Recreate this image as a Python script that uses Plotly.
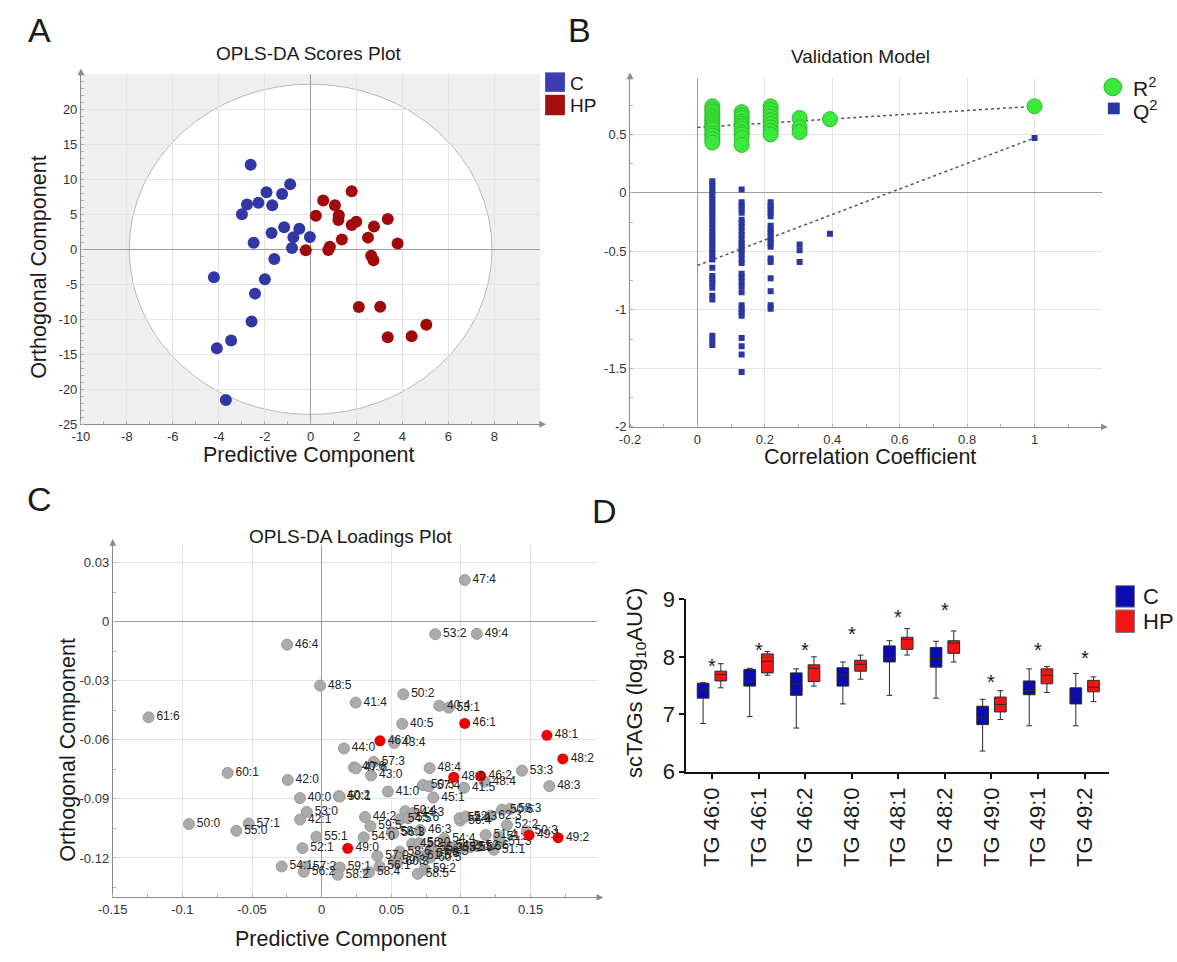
import plotly.graph_objects as go

W, H = 1177, 962
FONT = "Liberation Sans, Arial, Helvetica, sans-serif"
NARROW = "Liberation Sans Narrow, Arial Narrow, Liberation Sans, sans-serif"

# ---------------- A: OPLS-DA scores ----------------
scores_c_x = [-2.61, -0.89, -1.92, -1.24, -2.77, -2.27, -1.67, -2.99, -1.15, -0.49, -1.70, -0.75,
              -0.03, -2.48, -0.81, -1.58, -4.21, -1.99, -2.42, -2.57, -3.46, -4.08, -3.69]
scores_c_y = [12.09, 9.30, 8.14, 7.91, 6.42, 6.65, 6.28, 5.02, 3.16, 2.93, 2.33, 1.72,
              1.77, 0.93, 0.19, -1.40, -4.00, -4.28, -6.33, -10.33, -13.02, -14.14, -21.53]
scores_hp_x = [1.79, 0.55, 1.06, 0.23, 1.23, 1.21, 1.99, 1.79, 2.76, 3.36, 2.50, 1.36,
               3.79, 0.84, 0.77, -0.21, 2.64, 2.74, 2.10, 3.03, 5.04, 3.36, 4.40]
scores_hp_y = [8.28, 6.98, 6.28, 4.79, 4.88, 4.19, 3.95, 3.49, 3.26, 4.33, 1.67, 1.40,
               0.84, 0.37, -0.09, -0.14, -0.93, -1.58, -8.23, -8.19, -10.79, -12.56, -12.42]
t2_ellipse = [7.9, 23.6]  # Hotelling T2 semi-axes (predictive, orthogonal)
a_xticks = [-10, -8, -6, -4, -2, 0, 2, 4, 6, 8]
a_yticks = [-25, -20, -15, -10, -5, 0, 5, 10, 15, 20]

# ---------------- B: permutation validation ----------------
perm_corr = [0.044, 0.131, 0.217, 0.303, 0.393, 1.0]
r2_by_corr = [
    [0.74, 0.71, 0.69, 0.66, 0.64, 0.62, 0.60, 0.58, 0.56, 0.54, 0.51, 0.49, 0.46, 0.43],
    [0.69, 0.66, 0.64, 0.61, 0.59, 0.57, 0.55, 0.52, 0.50, 0.47, 0.41],
    [0.74, 0.71, 0.68, 0.65, 0.62, 0.59, 0.56, 0.53, 0.50],
    [0.64, 0.56, 0.52],
    [0.63],
    [0.74],
]
q2_by_corr = [
    [0.10, 0.07, 0.04, 0.01, -0.02, -0.05, -0.08, -0.11, -0.14, -0.17, -0.20, -0.23, -0.26,
     -0.30, -0.33, -0.36, -0.39, -0.42, -0.45, -0.48, -0.51, -0.54, -0.57, -0.64, -0.71,
     -0.74, -0.77, -0.81, -0.88, -0.91, -1.22, -1.26, -1.30],
    [0.03, -0.08, -0.11, -0.14, -0.17, -0.23, -0.26, -0.29, -0.33, -0.36, -0.40, -0.43, -0.46,
     -0.49, -0.52, -0.56, -0.60, -0.69, -0.72, -0.76, -0.80, -0.85, -0.96, -0.99, -1.02,
     -1.05, -1.24, -1.31, -1.38, -1.53],
    [-0.08, -0.11, -0.14, -0.17, -0.20, -0.28, -0.31, -0.34, -0.37, -0.40, -0.43, -0.46,
     -0.56, -0.59, -0.73, -0.84, -0.96, -0.99],
    [-0.44, -0.49, -0.59],
    [-0.35],
    [0.47],
]
r2_intercept = 0.56
q2_intercept = -0.62
b_xticks = [-0.2, 0, 0.2, 0.4, 0.6, 0.8, 1]
b_yticks = [-2, -1.5, -1, -0.5, 0, 0.5]

# ---------------- C: OPLS-DA loadings ----------------
load_gray_labels = ["47:4", "53:2", "49:4", "46:4", "48:5", "50:2", "41:4", "40:4", "53:1", "61:6",
                    "40:5", "43:4", "44:0", "57:3", "40:6", "47:6", "43:0", "48:4", "60:1", "53:3",
                    "42:0", "48:4", "50:5", "57:4", "41:5", "48:3", "41:0", "40:2", "50:1", "40:0",
                    "45:1", "53:0", "42:1", "50:0", "57:1", "55:0", "55:1", "52:1", "54:1", "57:2",
                    "56:2", "44:2", "50:4", "44:3", "54:5", "55:6", "59:5", "58:1", "56:3", "46:3",
                    "54:0", "45:2", "56:0", "54:4", "54:2", "53:5", "52:5", "51:6", "52:6", "55:3",
                    "56:5", "57:5", "57:0", "58:6", "61:5", "60:5", "59:3", "60:3", "56:1", "59:1",
                    "58:2", "58:4", "59:2", "58:5", "56:4", "52:4", "52:3", "62:3", "50:6", "58:3",
                    "52:2", "50:3", "51:4", "51:2", "51:3", "51:1"]
load_gray_x = [0.1027, 0.0815, 0.1114, -0.0248, -0.0011, 0.0586, 0.0244, 0.0844, 0.0912, -0.1243,
               0.0578, 0.0521, 0.0160, 0.0374, 0.0232, 0.0246, 0.0355, 0.0775, -0.0675, 0.1438,
               -0.0244, 0.1170, 0.0727, 0.0770, 0.1022, 0.1634, 0.0475, 0.0124, 0.0130, -0.0156,
               0.0802, -0.0107, -0.0155, -0.0953, -0.0524, -0.0613, -0.0038, -0.0138, -0.0287, -0.0120,
               -0.0128, 0.0311, 0.0600, 0.0655, 0.0562, 0.0620, 0.0350, 0.0505, 0.0515, 0.0707,
               0.0302, 0.0650, 0.0700, 0.0880, 0.0905, 0.0955, 0.1005, 0.1065, 0.1120, 0.0790,
               0.0830, 0.0765, 0.0400, 0.0560, 0.0700, 0.0780, 0.0520, 0.0545, 0.0415, 0.0130,
               0.0115, 0.0340, 0.0740, 0.0690, 0.0995, 0.0990, 0.1035, 0.1212, 0.1295, 0.1354,
               0.1330, 0.1472, 0.1177, 0.1271, 0.1283, 0.1236]
load_gray_y = [0.0211, -0.0064, -0.0062, -0.0117, -0.0325, -0.0369, -0.0411, -0.0427, -0.0437, -0.0486,
               -0.0519, -0.0616, -0.0644, -0.0712, -0.0740, -0.0745, -0.0781, -0.0744, -0.0768, -0.0757,
               -0.0804, -0.0812, -0.0830, -0.0836, -0.0844, -0.0835, -0.0863, -0.0886, -0.0888, -0.0896,
               -0.0893, -0.0966, -0.1005, -0.1028, -0.1025, -0.1062, -0.1092, -0.1150, -0.1243, -0.1244,
               -0.1270, -0.0992, -0.0963, -0.0972, -0.1004, -0.0998, -0.1038, -0.1070, -0.1075, -0.1058,
               -0.1095, -0.1128, -0.1125, -0.1102, -0.1140, -0.1148, -0.1150, -0.1145, -0.1140, -0.1150,
               -0.1168, -0.1178, -0.1190, -0.1168, -0.1190, -0.1198, -0.1216, -0.1222, -0.1243, -0.1248,
               -0.1285, -0.1272, -0.1258, -0.1280, -0.1010, -0.0998, -0.0990, -0.0985, -0.0955, -0.0950,
               -0.1033, -0.1065, -0.1083, -0.1092, -0.1117, -0.1158]
load_red_labels = ["46:1", "48:1", "46:0", "48:2", "48:0", "46:2", "49:1", "49:2", "49:0"]
load_red_x = [0.1027, 0.1617, 0.0418, 0.1731, 0.0948, 0.1141, 0.1489, 0.1697, 0.0187]
load_red_y = [-0.0517, -0.0577, -0.0605, -0.0697, -0.0790, -0.0784, -0.1084, -0.1097, -0.1151]
c_xticks = [-0.15, -0.1, -0.05, 0, 0.05, 0.1, 0.15]
c_yticks = [-0.12, -0.09, -0.06, -0.03, 0, 0.03]

# ---------------- D: scTAG box plots ----------------
tg_labels = ["TG 46:0", "TG 46:1", "TG 46:2", "TG 48:0", "TG 48:1", "TG 48:2", "TG 49:0", "TG 49:1", "TG 49:2"]
c_low = [6.84, 6.96, 6.76, 7.18, 7.33, 7.28, 6.36, 6.80, 6.80]
c_q1 = [7.28, 7.49, 7.33, 7.49, 7.91, 7.82, 6.82, 7.34, 7.18]
c_med = [7.43, 7.57, 7.53, 7.68, 7.98, 7.97, 6.94, 7.41, 7.30]
c_q3 = [7.54, 7.78, 7.72, 7.81, 8.19, 8.16, 7.14, 7.58, 7.46]
c_high = [7.55, 7.80, 7.79, 7.91, 8.28, 8.27, 7.26, 7.79, 7.71]
hp_low = [7.46, 7.68, 7.49, 7.61, 8.03, 7.91, 6.91, 7.38, 7.22]
hp_q1 = [7.58, 7.72, 7.57, 7.75, 8.13, 8.06, 7.04, 7.53, 7.39]
hp_med = [7.69, 7.92, 7.80, 7.87, 8.30, 8.24, 7.17, 7.68, 7.47]
hp_q3 = [7.75, 8.05, 7.86, 7.94, 8.34, 8.28, 7.30, 7.79, 7.59]
hp_high = [7.88, 8.09, 8.00, 8.03, 8.49, 8.45, 7.41, 7.83, 7.65]
sig_star_y = [7.91, 8.19, 8.19, 8.47, 8.77, 8.89, 7.63, 8.19, 8.04]

BLUE_A, RED_A = "#3237a6", "#a00a0a"


def fx(p):
    return p / W


def fy(p):
    return 1 - p / H


fig = go.Figure()

# A traces
fig.add_trace(go.Scatter(x=scores_c_x, y=scores_c_y, mode="markers", xaxis="x", yaxis="y",
                         marker=dict(size=12, color=BLUE_A, line=dict(width=0))))
fig.add_trace(go.Scatter(x=scores_hp_x, y=scores_hp_y, mode="markers", xaxis="x", yaxis="y",
                         marker=dict(size=12, color=RED_A, line=dict(width=0))))

# B traces: regression lines through the permutation intercepts, then Q2 and R2 points
fig.add_trace(go.Scatter(x=[0, perm_corr[-1]], y=[r2_intercept, r2_by_corr[-1][0]], mode="lines",
                         xaxis="x2", yaxis="y2", line=dict(color="#555", width=1.5, dash="dot")))
fig.add_trace(go.Scatter(x=[0, perm_corr[-1]], y=[q2_intercept, q2_by_corr[-1][0]], mode="lines",
                         xaxis="x2", yaxis="y2", line=dict(color="#555", width=1.5, dash="dot")))
r2x = [c for c, vals in zip(perm_corr, r2_by_corr) for _ in vals]
r2y = [v for vals in r2_by_corr for v in vals]
q2x = [c for c, vals in zip(perm_corr, q2_by_corr) for _ in vals]
q2y = [v for vals in q2_by_corr for v in vals]
fig.add_trace(go.Scatter(x=q2x, y=q2y, mode="markers", xaxis="x2", yaxis="y2",
                         marker=dict(symbol="square", size=6, color="#2b36a0", line=dict(width=0))))
fig.add_trace(go.Scatter(x=r2x, y=r2y, mode="markers", xaxis="x2", yaxis="y2",
                         marker=dict(size=15, color="#3de83d", line=dict(color="#2cbf2c", width=1))))

# C traces
fig.add_trace(go.Scatter(x=load_gray_x, y=load_gray_y, mode="markers+text", text=load_gray_labels,
                         textposition="middle right", xaxis="x3", yaxis="y3",
                         textfont=dict(family=NARROW, size=12, color="#222"),
                         marker=dict(size=11, color="#ababab", line=dict(color="#9a9a9a", width=1))))
fig.add_trace(go.Scatter(x=load_red_x, y=load_red_y, mode="markers+text", text=load_red_labels,
                         textposition="middle right", xaxis="x3", yaxis="y3",
                         textfont=dict(family=NARROW, size=12, color="#222"),
                         marker=dict(size=11, color="#ee0000", line=dict(width=0))))

# D traces
fig.add_trace(go.Box(x=tg_labels, lowerfence=c_low, q1=c_q1, median=c_med, q3=c_q3, upperfence=c_high,
                     name="C", xaxis="x4", yaxis="y4", fillcolor="#0b0bb2",
                     line=dict(color="#2a2a2a", width=1), whiskerwidth=0.5, boxpoints=False))
fig.add_trace(go.Box(x=tg_labels, lowerfence=hp_low, q1=hp_q1, median=hp_med, q3=hp_q3, upperfence=hp_high,
                     name="HP", xaxis="x4", yaxis="y4", fillcolor="#f41414",
                     line=dict(color="#2a2a2a", width=1), whiskerwidth=0.5, boxpoints=False))

tickf = dict(family=NARROW, size=13, color="#333")


def sci_axis(dom, rng, ticks, minor_dtick, anchor):
    return dict(domain=dom, range=rng, tickmode="array", tickvals=ticks,
                ticktext=[f"{v:g}" for v in ticks], anchor=anchor,
                showgrid=True, gridcolor="#e4e4e4", gridwidth=1,
                zeroline=True, zerolinecolor="#9c9c9c", zerolinewidth=1,
                showline=True, linecolor="#8c8c8c", linewidth=1, ticks="",
                tickfont=tickf, fixedrange=True,
                minor=dict(tickmode="linear", tick0=0, dtick=minor_dtick, ticks="inside", ticklen=3,
                           tickcolor="#b0b0b0", showgrid=False))


# pixel frames of the four panels
A_X, A_Y = (66.8, 532), (64, 423.3)
B_X, B_Y = (623, 1101), (68, 426)
C_X, C_Y = (99, 590), (547, 909)
D_X, D_Y = (680, 1108), (603, 780)

layout = dict(
    width=W, height=H, margin=dict(l=0, r=0, t=0, b=0),
    paper_bgcolor="white", plot_bgcolor="white", showlegend=False,
    boxmode="group", boxgap=0.24, boxgroupgap=0.34,
    font=dict(family=FONT, color="#1a1a1a"),
    xaxis=sci_axis([fx(A_X[0]), fx(A_X[1])], [-10, 10], a_xticks, 1, "y"),
    yaxis=sci_axis([fy(A_Y[1]), fy(A_Y[0])], [-25, 25], a_yticks, 1, "x"),
    xaxis2=sci_axis([fx(B_X[0]), fx(B_X[1])], [-0.2, 1.2], b_xticks, 0.1, "y2"),
    yaxis2=sci_axis([fy(B_Y[1]), fy(B_Y[0])], [-2, 0.98], b_yticks, 0.25, "x2"),
    xaxis3=sci_axis([fx(C_X[0]), fx(C_X[1])], [-0.15, 0.198], c_xticks, 0.025, "y3"),
    yaxis3=sci_axis([fy(C_Y[1]), fy(C_Y[0])], [-0.14, 0.039], c_yticks, 0.015, "x3"),
    xaxis4=dict(domain=[fx(D_X[0]), fx(D_X[1])], range=[-0.55, 8.52], anchor="y4", type="category",
                showline=True, linecolor="#111", linewidth=2, ticks="outside", ticklen=5,
                tickcolor="#111", tickwidth=1.5, tickangle=-90, showgrid=False, zeroline=False,
                tickfont=dict(family=FONT, size=22, color="#1a1a1a")),
    yaxis4=dict(domain=[fy(D_Y[1]), fy(D_Y[0])], range=[6, 9], dtick=1, anchor="x4",
                showline=True, linecolor="#111", linewidth=2, ticks="outside", ticklen=5,
                tickcolor="#111", tickwidth=1.5, showgrid=False, zeroline=False,
                tickfont=dict(family=FONT, size=22, color="#1a1a1a")),
)


def arrow_right(xp, yp):
    return dict(type="path", xref="paper", yref="paper", fillcolor="#8c8c8c", line=dict(width=0),
                path=f"M {fx(xp + 6)},{fy(yp)} L {fx(xp - 1)},{fy(yp - 3.5)} L {fx(xp - 1)},{fy(yp + 3.5)} Z")


def arrow_up(xp, yp):
    return dict(type="path", xref="paper", yref="paper", fillcolor="#8c8c8c", line=dict(width=0),
                path=f"M {fx(xp)},{fy(yp - 6)} L {fx(xp - 3.5)},{fy(yp + 1)} L {fx(xp + 3.5)},{fy(yp + 1)} Z")


shapes = [
    dict(type="rect", xref="x domain", yref="y domain", x0=0, x1=1, y0=0, y1=1,
         fillcolor="#efefef", line=dict(width=0), layer="below"),
    dict(type="circle", xref="x", yref="y", x0=-t2_ellipse[0], x1=t2_ellipse[0],
         y0=-t2_ellipse[1], y1=t2_ellipse[1], fillcolor="white",
         line=dict(color="#b8b8b8", width=1), layer="below"),
    # legend keys
    dict(type="rect", xref="paper", yref="paper", x0=fx(537), x1=fx(557), y0=fy(82), y1=fy(62),
         fillcolor="#3a3eb0", line=dict(color="#3a3eb0", width=0)),
    dict(type="rect", xref="paper", yref="paper", x0=fx(537), x1=fx(557), y0=fy(106), y1=fy(85),
         fillcolor="#a50f0f", line=dict(color="#a50f0f", width=0)),
    dict(type="circle", xref="paper", yref="paper", x0=fx(1103), x1=fx(1121), y0=fy(86), y1=fy(68),
         fillcolor="#3de83d", line=dict(color="#2cbf2c", width=1)),
    dict(type="rect", xref="paper", yref="paper", x0=fx(1107), x1=fx(1119), y0=fy(105), y1=fy(93),
         fillcolor="#2b36a0", line=dict(width=0)),
    dict(type="rect", xref="paper", yref="paper", x0=fx(1115), x1=fx(1134), y0=fy(611), y1=fy(589),
         fillcolor="#0b0bb2", line=dict(color="#777", width=1)),
    dict(type="rect", xref="paper", yref="paper", x0=fx(1115), x1=fx(1134), y0=fy(637), y1=fy(614),
         fillcolor="#f41414", line=dict(color="#777", width=1)),
    # axis arrowheads
    arrow_right(A_X[1], A_Y[1]), arrow_up(A_X[0], A_Y[0]),
    arrow_right(B_X[1], B_Y[1]), arrow_up(B_X[0], B_Y[0]),
    arrow_right(C_X[1], C_Y[1]), arrow_up(C_X[0], C_Y[0]),
]


def text(t, x, y, size, xanchor="center", angle=0, family=FONT):
    return dict(text=t, x=fx(x), y=fy(y), xref="paper", yref="paper", showarrow=False,
                xanchor=xanchor, yanchor="middle", textangle=angle,
                font=dict(family=family, size=size, color="#1a1a1a"))


annotations = [
    text("A", 25, 18, 34), text("B", 572, 18, 34), text("C", 25, 500, 34), text("D", 597, 512, 34),
    text("OPLS-DA Scores Plot", 298, 43, 19),
    text("Predictive Component", 298, 455, 21.5),
    text("Orthogonal Component", 25, 262, 21.5, angle=-90),
    text("C", 560, 73, 19, xanchor="left"), text("HP", 560, 96, 19, xanchor="left"),
    text("Validation Model", 856, 46, 19),
    text("Correlation Coefficient", 866, 457, 21.5),
    text("R<sup>2</sup>", 1130, 77, 21, xanchor="left"), text("Q<sup>2</sup>", 1130, 101, 21, xanchor="left"),
    text("OPLS-DA Loadings Plot", 340, 539, 19),
    text("Predictive Component", 330, 946, 21.5, ),
    text("Orthogonal Component", 54, 757, 21.5, angle=-90),
    text("scTAGs (log<sub>10</sub>AUC)", 629, 689, 22, angle=-90),
    text("C", 1141, 600, 22, xanchor="left"), text("HP", 1141, 626, 22, xanchor="left"),
]
annotations[14]["yshift"] = -6
for cat, sy in zip(tg_labels, sig_star_y):
    annotations.append(dict(text="*", x=cat, y=sy, xref="x4", yref="y4", showarrow=False,
                            yanchor="middle", yshift=-4, font=dict(family=FONT, size=20, color="#1a1a1a")))

layout["shapes"] = shapes
layout["annotations"] = annotations
fig.update_layout(**layout)
fig.write_html("out.html")
